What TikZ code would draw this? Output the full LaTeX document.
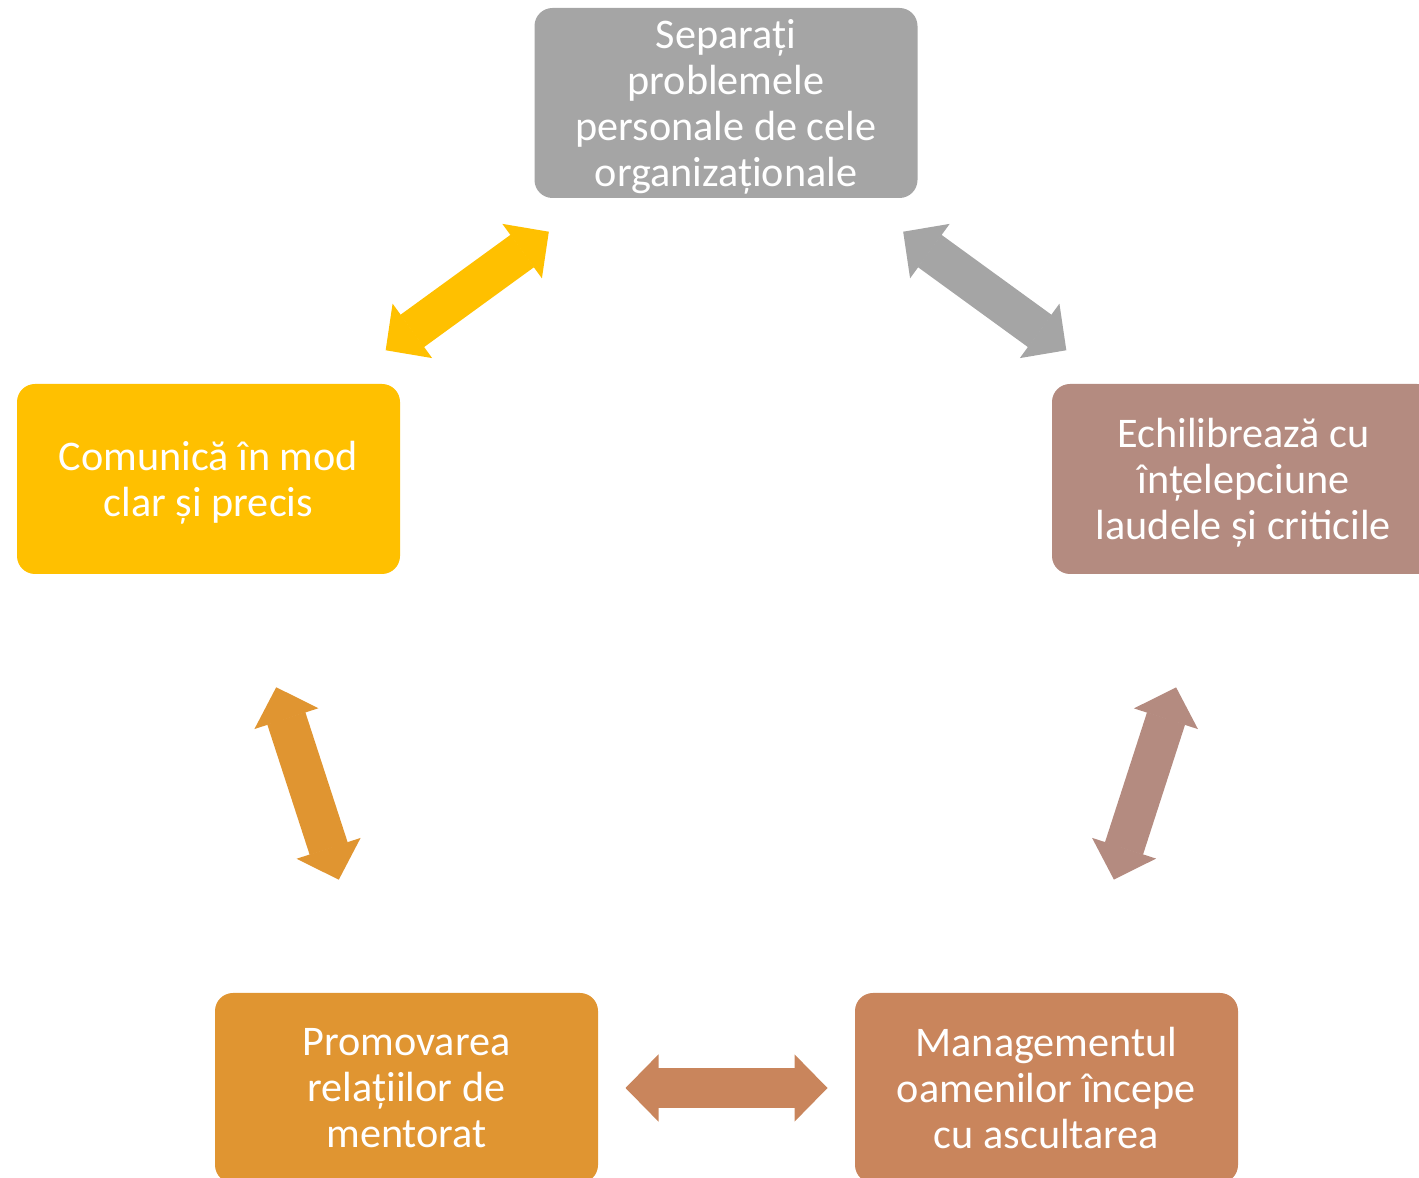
\documentclass[tikz,border=0pt]{standalone}
\usepackage{fontspec}
\setmainfont{Carlito}
\usetikzlibrary{arrows.meta}

\newlength\unitL
\setlength\unitL{0.5pt}

\definecolor{sepgray}{HTML}{A5A5A5}
\definecolor{comyellow}{HTML}{FFC000}
\definecolor{echrose}{HTML}{B48B80}
\definecolor{proorange}{HTML}{E09531}
\definecolor{manbrown}{HTML}{C9855C}

% tip sizes in pt (= half of a reference pixel)
\tikzset{
  box/.style={rounded corners=9pt, minimum width=191.5pt, minimum height=95pt,
    inner sep=0pt, text=white, align=center, text depth=0pt,
    font=\fontsize{21.1pt}{23pt}\selectfont},
  link/.style={line width=20pt,
    {Triangle[length=16.5pt, width=33.5pt, line width=0.8pt]}-{Triangle[length=16.5pt, width=33.5pt, line width=0.8pt]},
    shorten <=109.5pt, shorten >=109.5pt}
}

\begin{document}
\begin{tikzpicture}[x=\unitL, y=\unitL]

  \useasboundingbox (0,0) rectangle (1419,1178);

  % === Boxes ===
  \node[box, fill=sepgray] (sep) at (726,1075) {Separați\\problemele\\personale de cele\\organizaționale};
  \node[box, fill=comyellow] (com) at (208.5,699) {Comunică în mod\\clar și precis};
  \node[box, fill=echrose] (ech) at (1243.5,699) {Echilibrează cu\\înțelepciune\\laudele și criticile};
  \node[box, fill=proorange] (pro) at (406.5,90) {Promovarea\\relațiilor de\\mentorat};
  \node[box, fill=manbrown] (man) at (1046.5,90) {Managementul\\oamenilor începe\\cu ascultarea};

  % === Double block arrows ===
  \draw[link, comyellow] (com.center) -- (sep.center);
  \draw[link, sepgray] (sep.center) -- (ech.center);
  \draw[link, echrose] (ech.center) -- (man.center);
  \draw[link, manbrown] (man.center) -- (pro.center);
  \draw[link, proorange] (pro.center) -- (com.center);

\end{tikzpicture}
\end{document}
